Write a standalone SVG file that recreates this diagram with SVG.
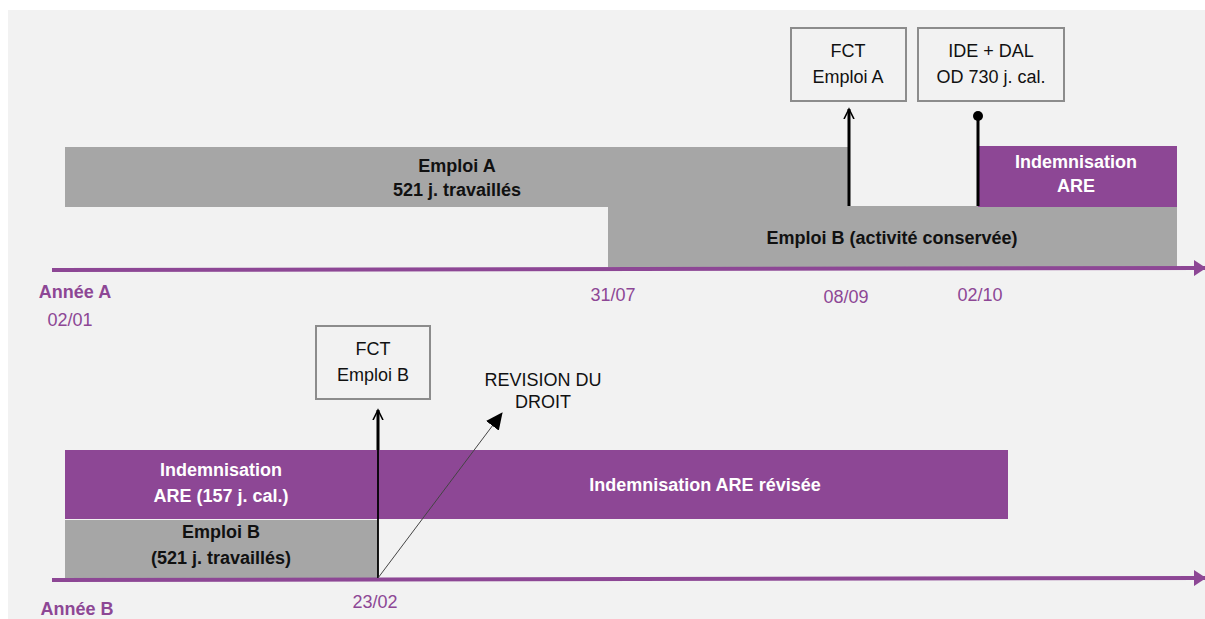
<svg xmlns="http://www.w3.org/2000/svg" width="1205" height="619" viewBox="0 0 1205 619">
<style>
.txt{font-family:"Liberation Sans",Arial,sans-serif;font-size:18px;text-anchor:middle}
.b{font-weight:bold}
.w{fill:#ffffff}
.k{fill:#111111}
.p{fill:#8d4795}
.bar{fill:#a6a6a6}
.pbar{fill:#8d4795}
.box{fill:#f2f2f2;stroke:#8c8c8c;stroke-width:2}
.axis{stroke:#8d4795;stroke-width:4;fill:none}
</style>
<defs>
<marker id="axhead" markerUnits="userSpaceOnUse" markerWidth="12" markerHeight="16" refX="11" refY="8" orient="auto">
<path d="M0,0 L12,8 L0,16 Z" fill="#8d4795"/>
</marker>
<marker id="uparrow" markerUnits="userSpaceOnUse" markerWidth="12" markerHeight="12" refX="10" refY="6" orient="auto">
<path d="M0,1 L10,6 L0,11" fill="none" stroke="#000" stroke-width="1.6"/>
</marker>
<marker id="tri" markerUnits="userSpaceOnUse" markerWidth="18" markerHeight="16" refX="16" refY="8" orient="auto">
<path d="M0,0 L17,8 L0,16 Z" fill="#000"/>
</marker>
</defs>
<rect x="0" y="0" width="1205" height="619" fill="#ffffff"/>
<rect x="8" y="10" width="1197" height="609" fill="#f2f2f2"/>

<g id="emploiA">
<rect class="bar" x="65" y="147" width="785" height="60"/>
<text class="txt b k" x="457" y="172">Emploi A</text>
<text class="txt b k" x="457" y="196">521 j. travaillés</text>
</g>
<g id="emploiB-A">
<rect class="bar" x="608" y="206" width="569" height="61"/>
<text class="txt b k" x="892" y="244">Emploi B (activité conservée)</text>
</g>
<g id="indemnA">
<rect class="pbar" x="978" y="146" width="199" height="61"/>
<text class="txt b w" x="1076" y="168">Indemnisation</text>
<text class="txt b w" x="1076" y="192">ARE</text>
</g>
<g id="fctA">
<rect class="box" x="791" y="28" width="115" height="73"/>
<text class="txt k" x="848" y="57">FCT</text>
<text class="txt k" x="848" y="83">Emploi A</text>
</g>
<g id="ide">
<rect class="box" x="918" y="28" width="146" height="73"/>
<text class="txt k" x="991" y="57">IDE + DAL</text>
<text class="txt k" x="991" y="83">OD 730 j. cal.</text>
</g>

<g id="emploiB-B">
<rect class="bar" x="65" y="520" width="313" height="58"/>
<text class="txt b k" x="221" y="538">Emploi B</text>
<text class="txt b k" x="221" y="564">(521 j. travaillés)</text>
</g>
<g id="indemnB">
<rect class="pbar" x="65" y="450" width="313" height="69"/>
<text class="txt b w" x="221" y="476">Indemnisation</text>
<text class="txt b w" x="221" y="502">ARE (157 j. cal.)</text>
</g>
<g id="indemnRevisee">
<rect class="pbar" x="378" y="450" width="630" height="69"/>
<text class="txt b w" x="705" y="491">Indemnisation ARE révisée</text>
</g>
<g id="fctB">
<rect class="box" x="316" y="326" width="114" height="73"/>
<text class="txt k" x="373" y="355">FCT</text>
<text class="txt k" x="373" y="381">Emploi B</text>
</g>
<g id="revision">
<text class="txt k" x="543" y="386">REVISION DU</text>
<text class="txt k" x="543" y="408">DROIT</text>
</g>

<g id="labels">
<text class="txt b p" x="75" y="298">Année A</text>
<text class="txt p" x="70" y="326">02/01</text>
<text class="txt p" x="613" y="301">31/07</text>
<text class="txt p" x="846" y="303">08/09</text>
<text class="txt p" x="980" y="301">02/10</text>
<text class="txt b p" x="77" y="615">Année B</text>
<text class="txt p" x="375" y="608">23/02</text>
</g>

<g id="connectors">
<line class="axis" x1="52" y1="270" x2="1205" y2="268" marker-end="url(#axhead)"/>
<line class="axis" x1="52" y1="580" x2="1205" y2="578" marker-end="url(#axhead)"/>
<line x1="849" y1="206" x2="849" y2="109" stroke="#000" stroke-width="3" marker-end="url(#uparrow)"/>
<line x1="978" y1="206" x2="978" y2="116" stroke="#000" stroke-width="3"/>
<circle cx="978" cy="116" r="5" fill="#000"/>
<line x1="378" y1="578" x2="378" y2="450" stroke="#000" stroke-width="1.8"/>
<line x1="378" y1="450" x2="378" y2="410" stroke="#000" stroke-width="3" marker-end="url(#uparrow)"/>
<line x1="378" y1="578" x2="502" y2="413" stroke="#444" stroke-width="1" marker-end="url(#tri)"/>
</g>
</svg>
